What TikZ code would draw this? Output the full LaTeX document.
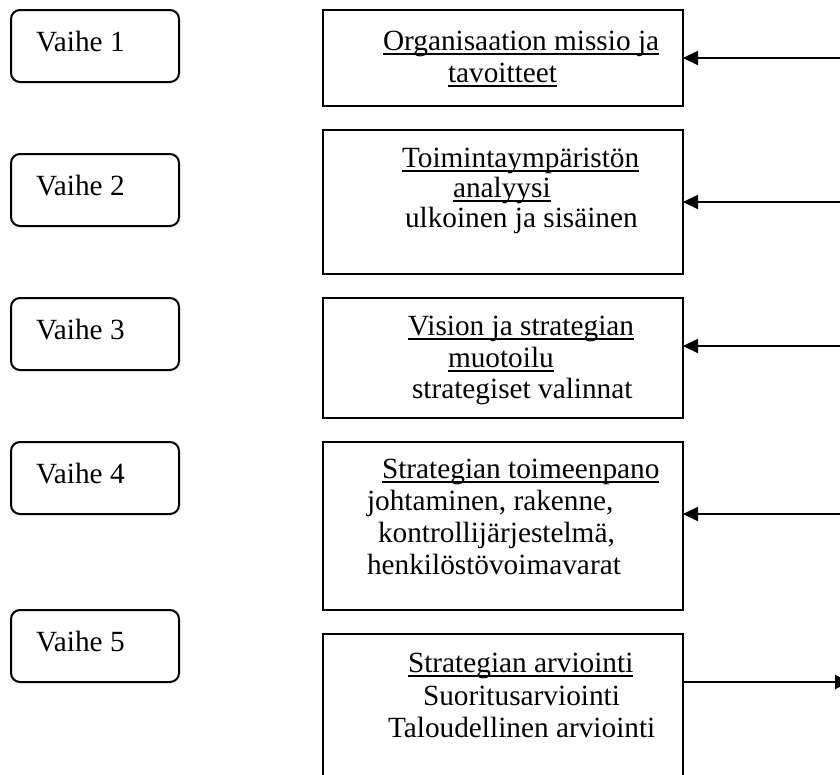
\documentclass[tikz,border=0pt]{standalone}
\usepackage{fontspec}
\setmainfont{Liberation Serif}
\usetikzlibrary{arrows.meta}
\begin{document}
\begin{tikzpicture}[x=1pt,y=-1pt,
  lbl/.style={inner sep=0pt, outer sep=0pt, anchor=base west, font=\fontsize{29.3}{32}\selectfont},
  vaihebox/.style={draw, line width=2pt, rounded corners=9pt, minimum width=168pt, minimum height=72pt, anchor=north west, inner sep=0pt, outer sep=0pt},
  stagebox/.style={draw, line width=2pt, minimum width=360pt, anchor=north west, inner sep=0pt, outer sep=0pt},
  ulline/.style={line width=1.8pt},
  conn/.style={line width=2pt, -{Triangle[length=15pt,width=14pt]}}]
\useasboundingbox (0,0) rectangle (840,774);

% Vaihe boxes
\node[vaihebox] (v1) at (11,10) {};
\node[vaihebox] (v2) at (11,154) {};
\node[vaihebox] (v3) at (11,298) {};
\node[vaihebox] (v4) at (11,442) {};
\node[vaihebox] (v5) at (11,610) {};
\node[lbl] (vt1) at (36,51) {Vaihe 1};
\node[lbl] (vt2) at (36,195) {Vaihe 2};
\node[lbl] (vt3) at (36,339) {Vaihe 3};
\node[lbl] (vt4) at (36,483) {Vaihe 4};
\node[lbl] (vt5) at (36,651) {Vaihe 5};

% Stage boxes
\node[stagebox, minimum height=96pt] (s1) at (323,10) {};
\node[stagebox, minimum height=144pt] (s2) at (323,130) {};
\node[stagebox, minimum height=120pt] (s3) at (323,298) {};
\node[stagebox, minimum height=168pt] (s4) at (323,442) {};
\node[stagebox, minimum height=170pt] (s5) at (323,634) {};

% Stage texts
\node[lbl] (a1) at (383,50) {Organisaation missio ja};
\node[lbl] (a2) at (448,82) {tavoitteet};
\node[lbl] (b1) at (402,167) {Toimintaympäristön};
\node[lbl] (b2) at (453,197) {analyysi};
\node[lbl] (b3) at (405,227) {ulkoinen ja sisäinen};
\node[lbl] (c1) at (408,335) {Vision ja strategian};
\node[lbl] (c2) at (448,367) {muotoilu};
\node[lbl] (c3) at (412,398) {strategiset valinnat};
\node[lbl] (d1) at (382,478) {Strategian toimeenpano};
\node[lbl] (d2) at (367,510) {johtaminen, rakenne,};
\node[lbl] (d3) at (378,542) {kontrollijärjestelmä,};
\node[lbl] (d4) at (367,574) {henkilöstövoimavarat};
\node[lbl] (e1) at (408,672) {Strategian arviointi};
\node[lbl] (e2) at (423,705) {Suoritusarviointi};
\node[lbl] (e3) at (388,737) {Taloudellinen arviointi};

% Underlines
\foreach \n in {a1,a2,b1,b2,c1,c2,d1,e1}{
  \draw[ulline] ([yshift=-4pt]\n.base west) -- ([yshift=-4pt]\n.base east);
}

% Connector ends beyond the right edge
\coordinate (r1) at (850,58);
\coordinate (r2) at (850,202);
\coordinate (r3) at (850,346);
\coordinate (r4) at (850,514);
\coordinate (r5) at (850,682);

\draw[conn] (r1) -- (r1 -| s1.east);
\draw[conn] (r2) -- (r2 -| s2.east);
\draw[conn] (r3) -- (r3 -| s3.east);
\draw[conn] (r4) -- (r4 -| s4.east);
\draw[conn] (r5 -| s5.east) -- (r5);
\end{tikzpicture}
\end{document}
